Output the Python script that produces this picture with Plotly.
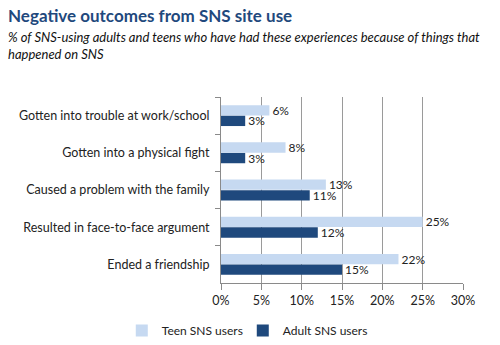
import plotly.graph_objects as go

categories = [
    "Gotten into trouble at work/school",
    "Gotten into a physical fight",
    "Caused a problem with the family",
    "Resulted in face-to-face argument",
    "Ended a friendship",
]
teen_values = [6, 8, 13, 25, 22]
adult_values = [3, 3, 11, 12, 15]
x_ticks = [0, 5, 10, 15, 20, 25, 30]
x_tick_labels = [f"{v}%" for v in x_ticks]

TEEN_COLOR = "#C6D9F1"
ADULT_COLOR = "#1F497D"
FONT = "Lato, Open Sans, sans-serif"

fig = go.Figure()
for name, vals, color, leg in [("Teen SNS users", teen_values, TEEN_COLOR, "legend"),
                               ("Adult SNS users", adult_values, ADULT_COLOR, "legend2")]:
    fig.add_trace(go.Bar(
        y=categories, x=vals, orientation="h", name=name, legend=leg,
        marker=dict(color=color, line=dict(width=0)),
        text=[f"{v}%" for v in vals], textposition="outside",
        constraintext="none", textangle=0,
        textfont=dict(size=12, color="#222"), cliponaxis=False,
    ))

legend_style = dict(orientation="h", xanchor="left", yanchor="middle", y=-0.255,
                    font=dict(size=12), itemwidth=30, bgcolor="rgba(0,0,0,0)")

fig.update_layout(
    width=500, height=345,
    margin=dict(l=221, r=37, t=97, b=62, autoexpand=False),
    paper_bgcolor="white", plot_bgcolor="white",
    font=dict(family=FONT, size=12, color="#222"),
    barmode="group", bargap=0.43, bargroupgap=0.03,
    showlegend=True,
    legend=dict(x=-0.41, **legend_style),
    legend2=dict(x=0.09, **legend_style),
    xaxis=dict(range=[0, 30], tickvals=x_ticks, ticktext=x_tick_labels,
               showgrid=True, gridcolor="#9a9a9a", gridwidth=1,
               showline=True, linecolor="#8a8a8a", ticks="outside", ticklen=6,
               tickcolor="#8a8a8a", tickfont=dict(size=12.5), zeroline=False),
    yaxis=dict(categoryorder="array", categoryarray=categories, autorange="reversed",
               showline=True, linecolor="#8a8a8a", ticks="outside", ticklen=5,
               tickcolor="#8a8a8a", tickson="boundaries", ticklabelstandoff=8,
               tickfont=dict(size=12.5), showgrid=False),
)

fig.add_annotation(
    text="<b>Negative outcomes from SNS site use</b>", xref="paper", yref="paper",
    x=0, xanchor="left", y=1, yanchor="top", xshift=-215, yshift=94,
    showarrow=False, font=dict(size=17, color="#1F497D", family=FONT),
)
fig.add_annotation(
    text="<i>% of SNS-using adults and teens who have had these experiences because of things that<br>happened on SNS</i>",
    xref="paper", yref="paper", x=0, xanchor="left", y=1, yanchor="top",
    xshift=-215, yshift=70, showarrow=False, align="left",
    font=dict(size=13, color="#111", family=FONT),
)

fig.write_html("out.html")
